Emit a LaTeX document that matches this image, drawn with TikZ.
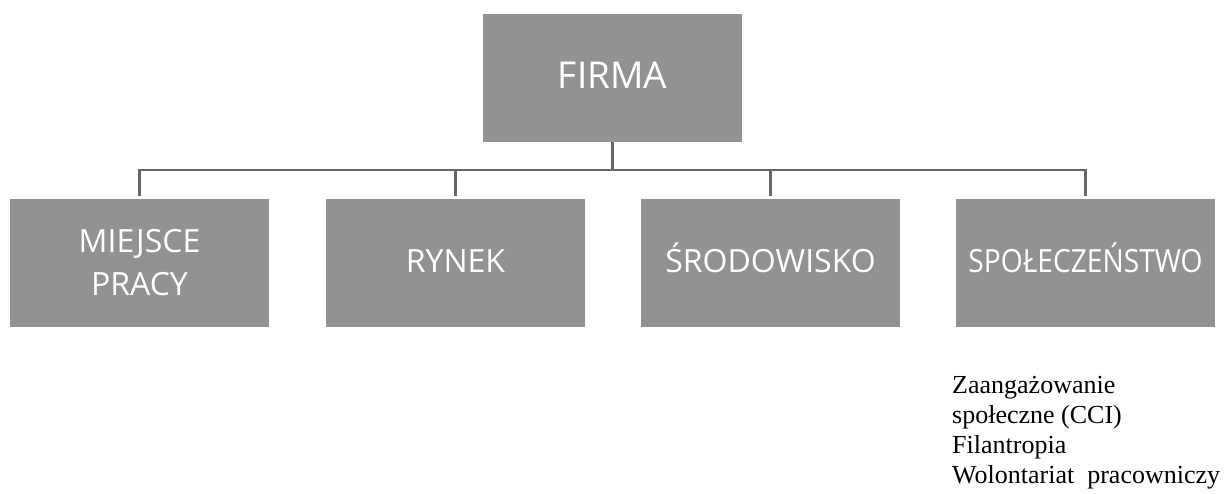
\documentclass[tikz,border=0pt]{standalone}
\usepackage{fontspec}
\setmainfont{Liberation Serif}
\newfontfamily\boxfont{Open Sans}
\usepackage{tikz}
\usetikzlibrary{positioning,calc}

\definecolor{boxgray}{HTML}{929292}
\definecolor{linegray}{HTML}{666666}

\tikzset{
  unit/.style={fill=boxgray, text=white, minimum width=259pt, minimum height=128pt,
    inner sep=0pt, font=\boxfont\fontsize{32}{43}\selectfont},
  oneline/.style={text height=23pt, text depth=5pt},
  conn/.style={draw=linegray, line width=2.2pt}
}

\begin{document}
\begin{tikzpicture}[x=1pt,y=-1pt]
            \useasboundingbox (0,0) rectangle (1229,493);

            \node[unit, text height=26pt, text depth=6pt,
                  font=\boxfont\fontsize{37}{44}\selectfont] (firma) at (612.5,78) {FIRMA};

            \node[unit, align=center] (praca) at (139.5,263) {MIEJSCE\\PRACY};
            \node[unit, oneline] (rynek) at (455.5,263) {RYNEK};
            \node[unit, oneline] (srodowisko) at (770.5,263) {ŚRODOWISKO};
            \node[unit, oneline] (spoleczenstwo) at (1085.5,263) {\scalebox{0.88}[1]{SPOŁECZEŃSTWO}};

            \coordinate (bus) at ($(firma.south)+(0,28)$);
            \draw[conn] (firma.south) -- (bus);
            \foreach \c in {praca,rynek,srodowisko,spoleczenstwo}
                \draw[conn, shorten >=3pt] (bus) -| (\c.north);

            \node[anchor=north west, inner sep=0pt, align=left,
                  font=\fontsize{26}{30}\selectfont] (opis) at (952,376)
                {Zaangażowanie\\społeczne (CCI)\\Filantropia\\Wolontariat\ \ pracowniczy};
        \end{tikzpicture}
\end{document}
